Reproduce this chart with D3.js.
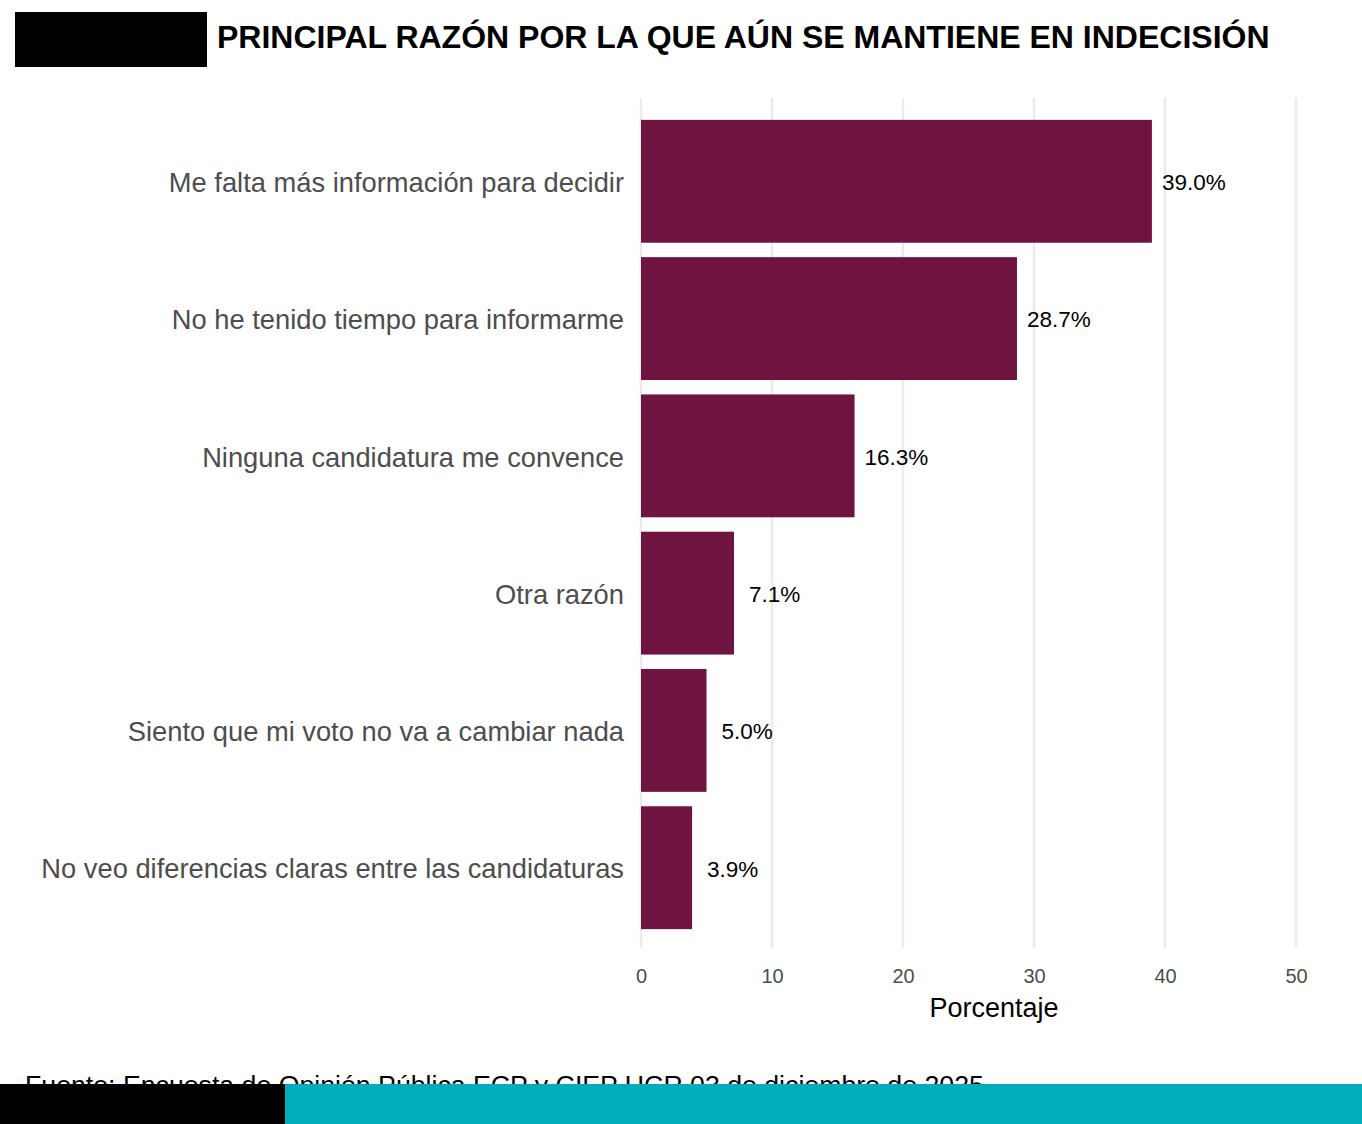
<!DOCTYPE html>
<html>
<head>
<meta charset="utf-8">
<script src="https://cdn.jsdelivr.net/npm/d3@7"></script>
<style>
  body { margin: 0; background: #fff; }
  svg { display: block; font-family: "Liberation Sans", Arial, sans-serif; }
</style>
</head>
<body>
<div id="chart"></div>
<script>
// Data
const categories = [
  "Me falta más información para decidir",
  "No he tenido tiempo para informarme",
  "Ninguna candidatura me convence",
  "Otra razón",
  "Siento que mi voto no va a cambiar nada",
  "No veo diferencias claras entre las candidaturas"
];
const values = [39.0, 28.7, 16.3, 7.1, 5.0, 3.9];
const xTicks = [0, 10, 20, 30, 40, 50];

const W = 1362, H = 1124;

const svg = d3.select("#chart")
              .append("svg")
              .attr("width", W)
              .attr("height", H);

// Header block and title
svg.append("rect")
   .attr("x", 15).attr("y", 12)
   .attr("width", 192).attr("height", 55)
   .attr("fill", "#000");

svg.append("text")
   .attr("x", 217)
   .attr("y", 48)
   .style("font-size", "32px")
   .style("font-weight", "bold")
   .attr("fill", "#000")
   .text("PRINCIPAL RAZÓN POR LA QUE AÚN SE MANTIENE EN INDECISIÓN");

// Scales
const xScale = d3.scaleLinear()
                 .domain([0, 50])
                 .range([641, 1296]);

const yScale = d3.scaleBand()
                 .domain(categories)
                 .range([113, 936])
                 .paddingInner(0.105)
                 .paddingOuter(0.05);

// Gridlines
svg.append("g")
   .selectAll("line")
   .data(xTicks)
   .enter()
   .append("line")
   .attr("x1", d => xScale(d))
   .attr("x2", d => xScale(d))
   .attr("y1", 98)
   .attr("y2", 948)
   .attr("stroke", "#ebebeb")
   .attr("stroke-width", 2.5);

// Bars
svg.selectAll(".bar")
   .data(values)
   .enter()
   .append("rect")
   .attr("class", "bar")
   .attr("x", xScale(0))
   .attr("y", (d, i) => yScale(categories[i]))
   .attr("width", d => xScale(d) - xScale(0))
   .attr("height", yScale.bandwidth())
   .attr("fill", "#6f1441");

// Value labels
svg.selectAll(".val")
   .data(values)
   .enter()
   .append("text")
   .attr("class", "val")
   .attr("x", d => xScale(d) + (d < 10 ? 15 : 10))
   .attr("y", (d, i) => yScale(categories[i]) + yScale.bandwidth() / 2 + 1)
   .attr("dy", "0.35em")
   .style("font-size", "22.5px")
   .attr("fill", "#000")
   .text(d => d.toFixed(1) + "%");

// Category labels (y axis)
const yAxis = svg.append("g")
   .attr("transform", "translate(641,2)")
   .call(d3.axisLeft(yScale).tickSize(0).tickPadding(17));
yAxis.select(".domain").remove();
yAxis.selectAll("text")
     .style("font-size", "27.3px")
     .style("font-family", "'Liberation Sans', Arial, sans-serif")
     .attr("fill", "#4d4d4d");

// X axis
const xAxis = svg.append("g")
   .attr("transform", "translate(0,948)")
   .call(d3.axisBottom(xScale).tickValues(xTicks).tickSize(0).tickPadding(21));
xAxis.select(".domain").remove();
xAxis.selectAll("text")
     .style("font-size", "20px")
     .style("font-family", "'Liberation Sans', Arial, sans-serif")
     .attr("fill", "#4d4d4d");

// X axis title
svg.append("text")
   .attr("x", 994)
   .attr("y", 1017)
   .attr("text-anchor", "middle")
   .style("font-size", "27px")
   .attr("fill", "#000")
   .text("Porcentaje");

// Source caption (partly covered by footer band)
svg.append("text")
   .attr("x", 25)
   .attr("y", 1094)
   .style("font-size", "26.7px")
   .attr("fill", "#000")
   .text("Fuente: Encuesta de Opinión Pública ECP y CIEP UCR 03 de diciembre de 2025");

// Footer band
svg.append("rect")
   .attr("x", 0).attr("y", 1084)
   .attr("width", 285).attr("height", 40)
   .attr("fill", "#000");
svg.append("rect")
   .attr("x", 285).attr("y", 1084)
   .attr("width", W - 285).attr("height", 40)
   .attr("fill", "#00adba");
</script>
</body>
</html>
